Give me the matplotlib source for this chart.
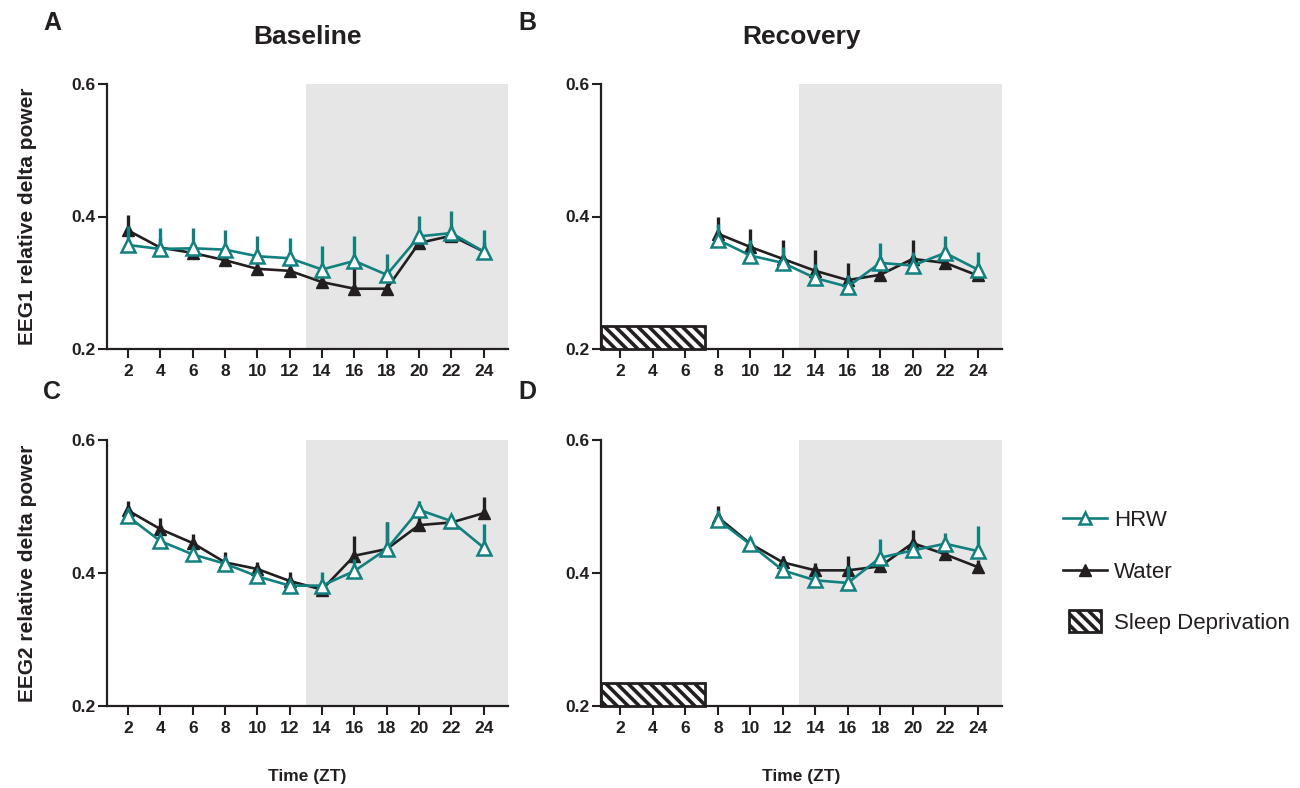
import matplotlib
matplotlib.use("Agg")
import matplotlib.pyplot as plt
from matplotlib.lines import Line2D
from matplotlib.patches import Rectangle, Patch
from matplotlib.legend_handler import HandlerPatch
import numpy as np

plt.rcParams['font.family'] = ['Liberation Sans', 'DejaVu Sans']
plt.rcParams['hatch.linewidth'] = 2.6

TEAL = "#12807f"
INK = "#231f20"
SHADE = "#e6e6e6"
HATCH = '\\\\\\'

# ---------------- data ----------------
zt_base = [2, 4, 6, 8, 10, 12, 14, 16, 18, 20, 22, 24]
zt_rec = [8, 10, 12, 14, 16, 18, 20, 22, 24]
xticks_all = [2, 4, 6, 8, 10, 12, 14, 16, 18, 20, 22, 24]

# Panel A: EEG1 baseline
a_hrw = [0.357, 0.351, 0.352, 0.350, 0.340, 0.337, 0.320, 0.333, 0.312, 0.370, 0.375, 0.347]
a_hrw_err = [0.028, 0.032, 0.031, 0.030, 0.031, 0.031, 0.035, 0.037, 0.031, 0.031, 0.034, 0.033]
a_wat = [0.379, 0.353, 0.345, 0.334, 0.321, 0.318, 0.301, 0.291, 0.291, 0.360, 0.371, 0.347]
a_wat_err = [0.024, 0.015, 0.015, 0.015, 0.015, 0.015, 0.015, 0.034, 0.004, 0.015, 0.015, 0.015]

# Panel B: EEG1 recovery
b_hrw = [0.365, 0.341, 0.330, 0.307, 0.294, 0.330, 0.326, 0.345, 0.320]
b_hrw_err = [0.024, 0.023, 0.024, 0.021, 0.018, 0.030, 0.020, 0.026, 0.026]
b_wat = [0.374, 0.354, 0.336, 0.318, 0.304, 0.312, 0.336, 0.330, 0.311]
b_wat_err = [0.025, 0.027, 0.028, 0.032, 0.026, 0.012, 0.029, 0.008, 0.008]

# Panel C: EEG2 baseline
c_hrw = [0.485, 0.448, 0.428, 0.414, 0.395, 0.381, 0.381, 0.403, 0.436, 0.495, 0.478, 0.438]
c_hrw_err = [0.012, 0.010, 0.010, 0.008, 0.008, 0.008, 0.021, 0.018, 0.040, 0.014, 0.008, 0.035]
c_wat = [0.494, 0.466, 0.445, 0.416, 0.406, 0.388, 0.375, 0.426, 0.436, 0.472, 0.476, 0.490]
c_wat_err = [0.015, 0.017, 0.014, 0.015, 0.011, 0.014, 0.010, 0.030, 0.041, 0.012, 0.005, 0.024]

# Panel D: EEG2 recovery
d_hrw = [0.480, 0.443, 0.404, 0.389, 0.385, 0.423, 0.434, 0.444, 0.433]
d_hrw_err = [0.015, 0.011, 0.012, 0.008, 0.026, 0.028, 0.011, 0.016, 0.037]
d_wat = [0.484, 0.444, 0.416, 0.404, 0.404, 0.410, 0.445, 0.428, 0.409]
d_wat_err = [0.017, 0.010, 0.010, 0.011, 0.022, 0.005, 0.019, 0.008, 0.011]

yticks = [0.2, 0.4, 0.6]
dark_start, dark_end = 13, 25.5
sd_start, sd_end, sd_height = 0.8, 7.2, 0.035

# ---------------- figure ----------------
fig = plt.figure(figsize=(13, 7.88), dpi=100)
W, H = 1300, 788


def make_ax(l, r, t, b):
    return fig.add_axes([l / W, 1 - b / H, (r - l) / W, (b - t) / H])


axA = make_ax(107, 508, 84, 349)
axB = make_ax(601, 1002, 84, 349)
axC = make_ax(107, 508, 440, 706)
axD = make_ax(601, 1002, 440, 706)


def draw(ax, x, hrw, hrw_err, wat, wat_err, xlim, recovery):
    ax.set_xlim(*xlim)
    ax.set_ylim(0.2, 0.6)
    ax.axvspan(dark_start, dark_end, color=SHADE, zorder=0, lw=0)
    # Water
    ax.errorbar(x, wat, yerr=[np.zeros(len(wat_err)), wat_err], fmt='none',
                ecolor=INK, elinewidth=2.4, capsize=0, zorder=2)
    ax.plot(x, wat, color=INK, lw=1.9, marker='^', ms=8.5,
            mfc=INK, mec=INK, zorder=3)
    # HRW
    ax.errorbar(x, hrw, yerr=[np.zeros(len(hrw_err)), hrw_err], fmt='none',
                ecolor=TEAL, elinewidth=2.4, capsize=0, zorder=4)
    ax.plot(x, hrw, color=TEAL, lw=1.9, marker='^', ms=10,
            mfc='white', mec=TEAL, mew=1.8, zorder=5)
    if recovery:
        ax.add_patch(Rectangle((sd_start, 0.2), sd_end - sd_start, sd_height,
                               facecolor='white', edgecolor=INK, hatch=HATCH,
                               lw=2.0, zorder=6, clip_on=False))
    for s in ['top', 'right']:
        ax.spines[s].set_visible(False)
    for s in ['left', 'bottom']:
        ax.spines[s].set_linewidth(1.6)
        ax.spines[s].set_color(INK)
    ax.set_xticks(xticks_all)
    ax.set_yticks(yticks)
    ax.set_yticklabels([f"{v:.1f}" for v in yticks])
    ax.tick_params(axis='both', length=6.5, width=1.5, color=INK, labelsize=12.5)
    ax.tick_params(axis='x', pad=4)
    ax.tick_params(axis='y', pad=2)
    for lab in ax.get_xticklabels() + ax.get_yticklabels():
        lab.set_fontweight('bold')
        lab.set_color(INK)


draw(axA, zt_base, a_hrw, a_hrw_err, a_wat, a_wat_err, (0.7, 25.5), False)
draw(axB, zt_rec, b_hrw, b_hrw_err, b_wat, b_wat_err, (0.8, 25.5), True)
draw(axC, zt_base, c_hrw, c_hrw_err, c_wat, c_wat_err, (0.7, 25.5), False)
draw(axD, zt_rec, d_hrw, d_hrw_err, d_wat, d_wat_err, (0.8, 25.5), True)

# Titles
axA.set_title("Baseline", fontsize=19, fontweight='bold', pad=29, color=INK)
axB.set_title("Recovery", fontsize=19, fontweight='bold', pad=29, color=INK)

# Y labels
axA.set_ylabel("EEG1 relative delta power", fontsize=15, fontweight='bold', color=INK)
axC.set_ylabel("EEG2 relative delta power", fontsize=15, fontweight='bold', color=INK)
axA.yaxis.set_label_coords(-0.175, 0.5)
axC.yaxis.set_label_coords(-0.175, 0.5)

# X labels
for ax in (axC, axD):
    ax.set_xlabel("Time (ZT)", fontsize=12.5, fontweight='bold', color=INK, labelpad=24)

# Panel letters
for letter, (px, py) in zip("ABCD", [(52, 23), (527, 23), (52, 392), (527, 392)]):
    fig.text(px / W, 1 - py / H, letter, fontsize=18, fontweight='bold',
             ha='center', va='center', color=INK)


# Legend
class SmallBoxHandler(HandlerPatch):
    def create_artists(self, legend, orig_handle, xdescent, ydescent,
                       width, height, fontsize, trans):
        bw = height * 2.05
        bh = height * 1.42
        x0 = -xdescent + (width - bw) / 2
        y0 = -ydescent + (height - bh) / 2
        p = Rectangle((x0, y0), bw, bh, facecolor='white', edgecolor=INK,
                      hatch=HATCH, lw=2.0, transform=trans)
        return [p]


handles = [
    Line2D([], [], color=TEAL, lw=1.9, marker='^', ms=9, mfc='white', mec=TEAL, mew=1.8),
    Line2D([], [], color=INK, lw=1.9, marker='^', ms=8, mfc=INK, mec=INK),
    Patch(facecolor='white', edgecolor=INK, hatch=HATCH),
]
labels = ["HRW", "Water", "Sleep Deprivation"]
fig.legend(handles, labels, loc='center left', bbox_to_anchor=(1063 / W, 1 - 572 / H),
           frameon=False, fontsize=16, handlelength=2.0, labelspacing=1.36,
           handletextpad=0.3, borderpad=0, borderaxespad=0,
           handler_map={Patch: SmallBoxHandler()}, labelcolor=INK)

fig.savefig("out.png", dpi=100)
